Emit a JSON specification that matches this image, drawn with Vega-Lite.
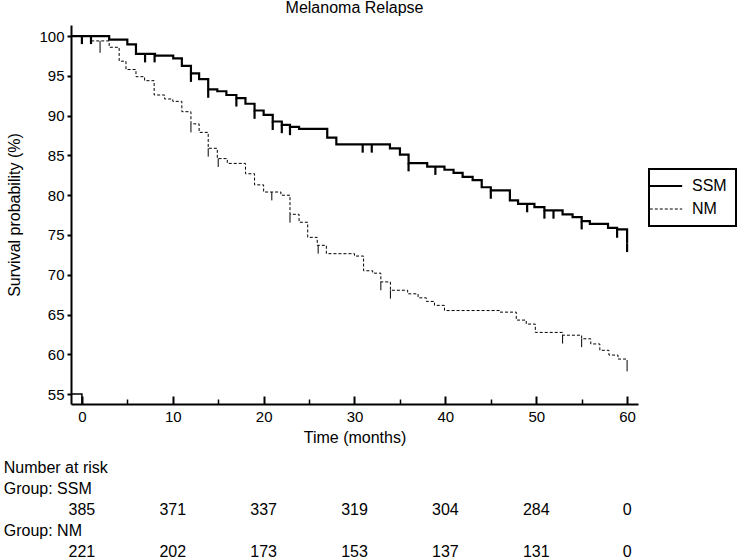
{
  "$schema": "https://vega.github.io/schema/vega-lite/v6.json",
  "background": "white",
  "padding": {"left": 3, "top": 0, "right": 0, "bottom": 0},
  "spacing": 12,
  "config": {
    "font": "Liberation Sans",
    "view": {"stroke": null},
    "axis": {"grid": false, "domainColor": "black", "tickColor": "black", "labelColor": "black", "titleColor": "black", "titleFontWeight": "normal"}
  },
  "datasets": {
    "curves": [
      {"group": "SSM", "t": -1.2, "s": 100}, {"group": "SSM", "t": 3.0, "s": 99.56}, {"group": "SSM", "t": 5.0, "s": 98.97},
      {"group": "SSM", "t": 5.95, "s": 97.76}, {"group": "SSM", "t": 8.05, "s": 97.55}, {"group": "SSM", "t": 10.05, "s": 97.2},
      {"group": "SSM", "t": 11.0, "s": 96.25}, {"group": "SSM", "t": 12.0, "s": 95.33}, {"group": "SSM", "t": 12.9, "s": 94.6},
      {"group": "SSM", "t": 13.9, "s": 93.3}, {"group": "SSM", "t": 14.9, "s": 93.07}, {"group": "SSM", "t": 15.9, "s": 92.6},
      {"group": "SSM", "t": 17.0, "s": 92.2}, {"group": "SSM", "t": 18.0, "s": 91.5}, {"group": "SSM", "t": 19.0, "s": 90.65},
      {"group": "SSM", "t": 20.0, "s": 90.1}, {"group": "SSM", "t": 21.0, "s": 89.27}, {"group": "SSM", "t": 22.0, "s": 88.85},
      {"group": "SSM", "t": 22.9, "s": 88.6}, {"group": "SSM", "t": 23.9, "s": 88.35}, {"group": "SSM", "t": 27.0, "s": 87.25},
      {"group": "SSM", "t": 28.0, "s": 86.4}, {"group": "SSM", "t": 33.9, "s": 85.9}, {"group": "SSM", "t": 35.0, "s": 85.1},
      {"group": "SSM", "t": 35.95, "s": 84.03}, {"group": "SSM", "t": 38.0, "s": 83.6}, {"group": "SSM", "t": 39.9, "s": 83.2},
      {"group": "SSM", "t": 40.9, "s": 82.8}, {"group": "SSM", "t": 41.9, "s": 82.3}, {"group": "SSM", "t": 43.0, "s": 81.9},
      {"group": "SSM", "t": 44.0, "s": 81.0}, {"group": "SSM", "t": 45.0, "s": 80.6}, {"group": "SSM", "t": 47.1, "s": 79.35},
      {"group": "SSM", "t": 48.0, "s": 78.9}, {"group": "SSM", "t": 49.8, "s": 78.5}, {"group": "SSM", "t": 50.9, "s": 78.1},
      {"group": "SSM", "t": 52.9, "s": 77.6}, {"group": "SSM", "t": 54.0, "s": 77.25}, {"group": "SSM", "t": 55.0, "s": 76.75},
      {"group": "SSM", "t": 55.9, "s": 76.4}, {"group": "SSM", "t": 57.9, "s": 75.9}, {"group": "SSM", "t": 58.9, "s": 75.7},
      {"group": "SSM", "t": 60.0, "s": 73.9},
      {"group": "NM", "t": -1.2, "s": 100}, {"group": "NM", "t": 1.0, "s": 99.4}, {"group": "NM", "t": 3.0, "s": 98.6},
      {"group": "NM", "t": 4.1, "s": 96.85}, {"group": "NM", "t": 4.85, "s": 95.8}, {"group": "NM", "t": 5.95, "s": 94.9},
      {"group": "NM", "t": 6.9, "s": 94.4}, {"group": "NM", "t": 7.95, "s": 92.6}, {"group": "NM", "t": 9.1, "s": 92.1},
      {"group": "NM", "t": 10.0, "s": 91.8}, {"group": "NM", "t": 11.0, "s": 90.5}, {"group": "NM", "t": 12.0, "s": 88.97},
      {"group": "NM", "t": 12.9, "s": 87.9}, {"group": "NM", "t": 13.9, "s": 85.9}, {"group": "NM", "t": 14.9, "s": 84.6},
      {"group": "NM", "t": 16.0, "s": 84.0}, {"group": "NM", "t": 18.0, "s": 82.7}, {"group": "NM", "t": 19.0, "s": 81.3},
      {"group": "NM", "t": 20.0, "s": 80.4}, {"group": "NM", "t": 21.9, "s": 80.0}, {"group": "NM", "t": 22.9, "s": 77.6},
      {"group": "NM", "t": 23.9, "s": 76.6}, {"group": "NM", "t": 24.85, "s": 74.7}, {"group": "NM", "t": 25.9, "s": 73.7},
      {"group": "NM", "t": 26.9, "s": 72.65}, {"group": "NM", "t": 30.0, "s": 72.35}, {"group": "NM", "t": 31.0, "s": 70.5},
      {"group": "NM", "t": 32.0, "s": 70.2}, {"group": "NM", "t": 32.9, "s": 69.1}, {"group": "NM", "t": 33.95, "s": 68.05},
      {"group": "NM", "t": 35.85, "s": 67.6}, {"group": "NM", "t": 37.0, "s": 67.1}, {"group": "NM", "t": 37.9, "s": 66.65},
      {"group": "NM", "t": 38.8, "s": 66.15}, {"group": "NM", "t": 39.9, "s": 65.5}, {"group": "NM", "t": 46.0, "s": 65.3},
      {"group": "NM", "t": 47.8, "s": 64.3}, {"group": "NM", "t": 48.9, "s": 63.8}, {"group": "NM", "t": 49.9, "s": 62.75},
      {"group": "NM", "t": 52.9, "s": 62.4}, {"group": "NM", "t": 55.0, "s": 61.95}, {"group": "NM", "t": 56.0, "s": 61.3},
      {"group": "NM", "t": 57.0, "s": 60.5}, {"group": "NM", "t": 58.0, "s": 59.9}, {"group": "NM", "t": 59.0, "s": 59.4},
      {"group": "NM", "t": 60.0, "s": 58.9}
    ],
    "censor": [
      {"group": "SSM", "t": 0.0, "s": 100, "lo": 99.0}, {"group": "SSM", "t": 1.0, "s": 100, "lo": 99.0},
      {"group": "SSM", "t": 6.95, "s": 97.76, "lo": 96.7}, {"group": "SSM", "t": 8.0, "s": 97.76, "lo": 96.7},
      {"group": "SSM", "t": 12.0, "s": 95.33, "lo": 94.25}, {"group": "SSM", "t": 13.9, "s": 93.3, "lo": 92.25},
      {"group": "SSM", "t": 17.0, "s": 92.2, "lo": 91.15}, {"group": "SSM", "t": 19.0, "s": 90.65, "lo": 89.6},
      {"group": "SSM", "t": 21.0, "s": 89.27, "lo": 88.2}, {"group": "SSM", "t": 22.0, "s": 88.85, "lo": 87.8},
      {"group": "SSM", "t": 22.9, "s": 88.6, "lo": 87.55}, {"group": "SSM", "t": 30.9, "s": 86.4, "lo": 85.35},
      {"group": "SSM", "t": 31.9, "s": 86.4, "lo": 85.35}, {"group": "SSM", "t": 35.95, "s": 84.03, "lo": 83.0},
      {"group": "SSM", "t": 38.9, "s": 83.6, "lo": 82.55}, {"group": "SSM", "t": 45.0, "s": 80.6, "lo": 79.55},
      {"group": "SSM", "t": 49.0, "s": 78.9, "lo": 77.85}, {"group": "SSM", "t": 50.9, "s": 78.1, "lo": 77.05},
      {"group": "SSM", "t": 51.9, "s": 78.1, "lo": 77.05}, {"group": "SSM", "t": 55.0, "s": 76.75, "lo": 75.7},
      {"group": "SSM", "t": 58.9, "s": 75.7, "lo": 74.65}, {"group": "SSM", "t": 60.0, "s": 73.9, "lo": 72.85},
      {"group": "NM", "t": 2.0, "s": 99.4, "lo": 97.9}, {"group": "NM", "t": 12.0, "s": 88.97, "lo": 87.9},
      {"group": "NM", "t": 13.9, "s": 85.9, "lo": 84.85}, {"group": "NM", "t": 15.0, "s": 84.6, "lo": 83.55},
      {"group": "NM", "t": 20.9, "s": 80.4, "lo": 79.35}, {"group": "NM", "t": 22.9, "s": 77.6, "lo": 76.55},
      {"group": "NM", "t": 26.0, "s": 73.7, "lo": 72.65}, {"group": "NM", "t": 32.9, "s": 69.1, "lo": 68.05},
      {"group": "NM", "t": 33.95, "s": 68.05, "lo": 67.0}, {"group": "NM", "t": 52.9, "s": 62.4, "lo": 61.35},
      {"group": "NM", "t": 55.0, "s": 61.95, "lo": 60.9}, {"group": "NM", "t": 60.0, "s": 58.9, "lo": 57.85}
    ],
    "corner": [
      {"t": -1.2, "s": 55}, {"t": 0, "s": 53.75}
    ],
    "risk": [
      {"row": 1, "t": -8.6, "txt": "Number at risk", "kind": "label"},
      {"row": 2, "t": -8.6, "txt": "Group: SSM", "kind": "label"},
      {"row": 3, "t": 0, "txt": "385", "kind": "n"}, {"row": 3, "t": 10, "txt": "371", "kind": "n"},
      {"row": 3, "t": 20, "txt": "337", "kind": "n"}, {"row": 3, "t": 30, "txt": "319", "kind": "n"},
      {"row": 3, "t": 40, "txt": "304", "kind": "n"}, {"row": 3, "t": 50, "txt": "284", "kind": "n"},
      {"row": 3, "t": 60, "txt": "0", "kind": "n"},
      {"row": 4, "t": -8.6, "txt": "Group: NM", "kind": "label"},
      {"row": 5, "t": 0, "txt": "221", "kind": "n"}, {"row": 5, "t": 10, "txt": "202", "kind": "n"},
      {"row": 5, "t": 20, "txt": "173", "kind": "n"}, {"row": 5, "t": 30, "txt": "153", "kind": "n"},
      {"row": 5, "t": 40, "txt": "137", "kind": "n"}, {"row": 5, "t": 50, "txt": "131", "kind": "n"},
      {"row": 5, "t": 60, "txt": "0", "kind": "n"}
    ]
  },
  "vconcat": [
    {
      "width": 567,
      "height": 379,
      "title": {"text": "Melanoma Relapse", "fontSize": 16, "fontWeight": "normal", "frame": "group", "offset": 9, "color": "black"},
      "layer": [
        {
          "data": {"name": "curves"},
          "mark": {"type": "line", "interpolate": "step-after", "color": "black"},
          "encoding": {
            "x": {
              "field": "t", "type": "quantitative",
              "scale": {"domain": [-1.2, 61.2], "nice": false, "zero": false},
              "axis": {"orient": "bottom", "values": [0, 10, 20, 30, 40, 50, 60], "title": "Time (months)", "titleFontSize": 16, "titlePadding": 5,
                       "labelFontSize": 15, "labelPadding": 5, "offset": -8, "tickSize": 8, "tickWidth": 2, "domain": false, "labelFlush": false}
            },
            "y": {
              "field": "s", "type": "quantitative",
              "scale": {"domain": [53.75, 101.4], "nice": false, "zero": false},
              "axis": {"values": [55, 60, 65, 70, 75, 80, 85, 90, 95, 100], "title": "Survival probability (%)", "titleFontSize": 16,
                       "titlePadding": 16, "labelFontSize": 15, "labelPadding": 3, "tickSize": 4, "tickWidth": 2, "domainWidth": 2, "labelFlush": false}
            },
            "strokeDash": {
              "field": "group", "type": "nominal",
              "scale": {"domain": ["SSM", "NM"], "range": [[1, 0], [3, 2]]},
              "legend": {"title": null, "orient": "none", "legendX": 578, "legendY": 144,
                         "symbolType": "M-2.7,0H2.7", "symbolStrokeColor": "black", "symbolFillColor": "transparent",
                         "symbolSize": 144, "labelFontSize": 16, "labelColor": "black", "labelOffset": 18, "padding": 9, "rowPadding": 7,
                         "strokeColor": "black", "encode": {"legend": {"update": {"strokeWidth": {"value": 2}}}}}
            },
            "strokeWidth": {
              "field": "group", "type": "nominal",
              "scale": {"domain": ["SSM", "NM"], "range": [2.2, 1]},
              "legend": {"title": null, "orient": "none", "legendX": 578, "legendY": 144,
                         "symbolType": "M-2.7,0H2.7", "symbolStrokeColor": "black", "symbolFillColor": "transparent",
                         "symbolSize": 144, "labelFontSize": 16, "labelColor": "black", "labelOffset": 18, "padding": 9, "rowPadding": 7,
                         "strokeColor": "black", "encode": {"legend": {"update": {"strokeWidth": {"value": 2}}}}}
            }
          }
        },
        {
          "data": {"name": "censor"},
          "mark": {"type": "rule", "color": "black"},
          "encoding": {
            "x": {
              "field": "t", "type": "quantitative",
              "scale": {"domain": [-1.2, 61.2], "nice": false, "zero": false},
              "axis": {"orient": "bottom", "title": null, "labels": false, "ticks": false, "domain": true, "domainWidth": 2}
            },
            "y": {
              "field": "s", "type": "quantitative",
              "scale": {"domain": [53.75, 101.4], "nice": false, "zero": false},
              "axis": {"values": [55, 60, 65, 70, 75, 80, 85, 90, 95, 100], "title": "Survival probability (%)", "titleFontSize": 16,
                       "titlePadding": 16, "labelFontSize": 15, "labelPadding": 3, "tickSize": 4, "tickWidth": 2, "domainWidth": 2, "labelFlush": false}
            },
            "y2": {"field": "lo"},
            "strokeWidth": {"field": "group", "type": "nominal"}
          }
        },
        {
          "data": {"name": "corner"},
          "mark": {"type": "line", "interpolate": "step-after", "color": "black", "strokeWidth": 1.5},
          "encoding": {
            "x": {
              "field": "t", "type": "quantitative",
              "scale": {"domain": [-1.2, 61.2], "nice": false, "zero": false},
              "axis": {"orient": "bottom", "values": [5, 15, 25, 35, 45, 55], "title": null, "labels": false, "domain": false,
                       "offset": -5, "tickSize": 5, "tickWidth": 1.5}
            },
            "y": {
              "field": "s", "type": "quantitative",
              "scale": {"domain": [53.75, 101.4], "nice": false, "zero": false},
              "axis": {"values": [55, 60, 65, 70, 75, 80, 85, 90, 95, 100], "title": "Survival probability (%)", "titleFontSize": 16,
                       "titlePadding": 16, "labelFontSize": 15, "labelPadding": 3, "tickSize": 4, "tickWidth": 2, "domainWidth": 2, "labelFlush": false}
            }
          }
        }
      ],
      "resolve": {"axis": {"x": "independent"}}
    },
    {
      "width": 567,
      "height": 105,
      "data": {"name": "risk"},
      "encoding": {
        "x": {"field": "t", "type": "quantitative", "scale": {"domain": [-1.2, 61.2], "nice": false, "zero": false}, "axis": null},
        "y": {"field": "row", "type": "ordinal", "axis": null},
        "text": {"field": "txt"}
      },
      "layer": [
        {
          "transform": [{"filter": "datum.kind === 'label'"}],
          "mark": {"type": "text", "align": "left", "baseline": "middle", "fontSize": 16, "color": "black", "clip": false}
        },
        {
          "transform": [{"filter": "datum.kind === 'n'"}],
          "mark": {"type": "text", "align": "center", "baseline": "middle", "fontSize": 16, "color": "black", "clip": false}
        }
      ]
    }
  ],
  "resolve": {"scale": {"x": "independent", "y": "independent"}}
}
